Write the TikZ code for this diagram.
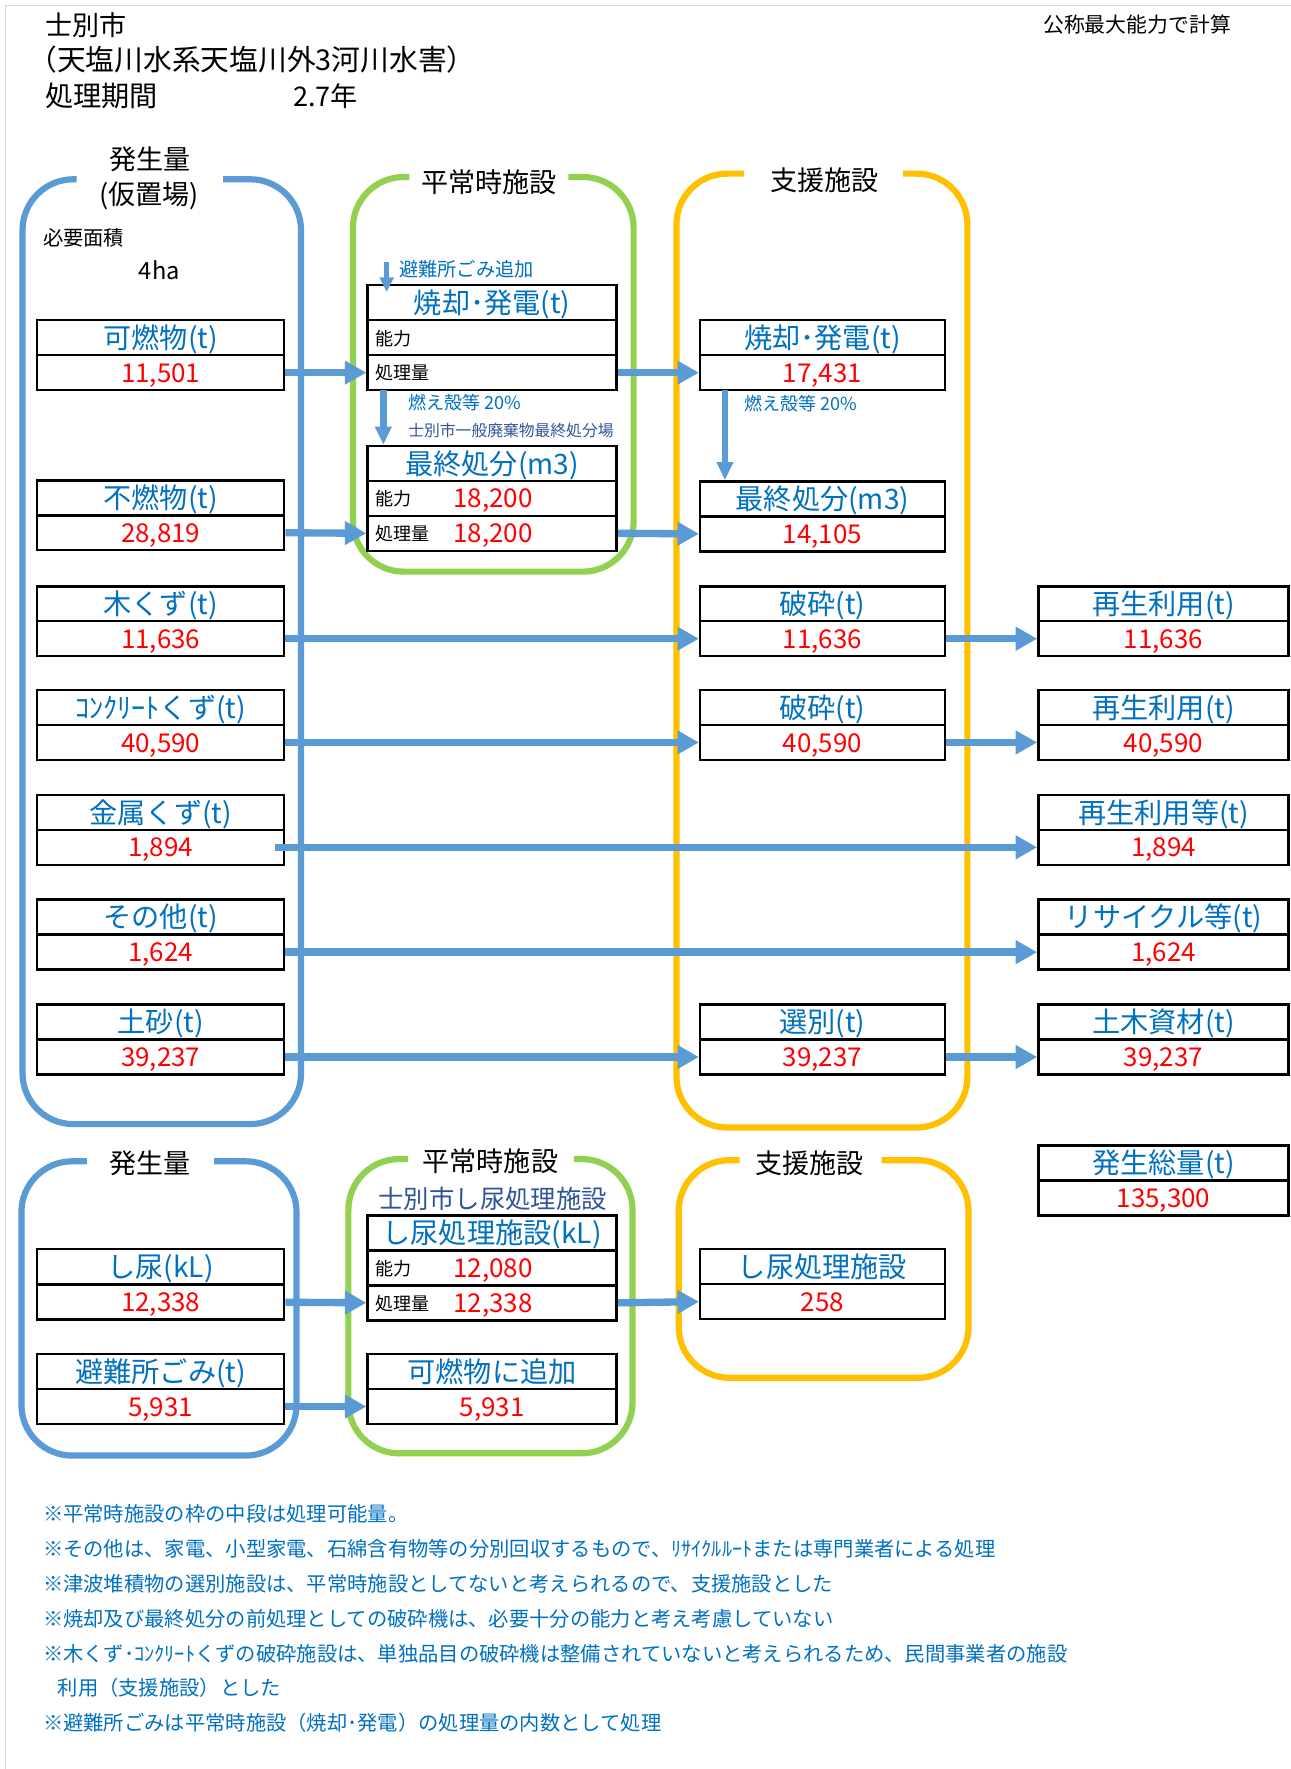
\documentclass[tikz,border=0pt]{standalone}
\usepackage{fontspec}
\setmainfont{Noto Sans CJK JP}
\usetikzlibrary{arrows.meta}
\definecolor{pblue}{HTML}{5B9BD5}
\definecolor{pgreen}{HTML}{92D050}
\definecolor{pyellow}{HTML}{FFC000}
\definecolor{tblue}{HTML}{0070C0}
\definecolor{slate}{HTML}{2F5597}
\definecolor{frameline}{HTML}{D6DCE5}
\newcommand{\myfs}[1]{\fontsize{#1}{#1}\selectfont}
\begin{document}
\begin{tikzpicture}[x=1pt,y=-1pt,
  panel/.style={line width=5.5pt, rounded corners=45pt},
  cell/.style={draw=black, line width=2.2pt, fill=white, inner sep=0pt, minimum height=31pt},
  lcell/.style={cell, minimum width=219pt},
  gcell/.style={cell, minimum width=221pt},
  ycell/.style={cell, minimum width=217pt},
  rcell/.style={cell, minimum width=222pt},
  ttl/.style={text=tblue, font=\myfs{25}, text height=21pt, text depth=2pt},
  num/.style={text=red, font=\myfs{23}, text height=17pt, text depth=0pt},
  hdr/.style={font=\myfs{24}, text=black, inner sep=0pt},
  lab/.style={font=\myfs{16}, text=black, anchor=west, inner sep=0pt, text height=13pt, text depth=0pt},
  flow/.style={draw=pblue, line width=6.5pt, -{Triangle[width=20pt,length=19pt]}},
  sflow/.style={draw=pblue, line width=4.4pt, -{Triangle[width=12pt,length=13pt]}},
  mflow/.style={draw=pblue, line width=6pt, -{Triangle[width=14pt,length=16pt]}},
  small/.style={font=\myfs{16}, text=tblue, anchor=west, inner sep=0pt},
  note/.style={font=\myfs{18}, text=tblue, anchor=west, inner sep=0pt},
]
\useasboundingbox (0,0) rectangle (1145,1569);
\fill[white] (0,0) rectangle (1145,1569);
\draw[frameline, line width=1.5pt] (5,1569) -- (5,5) -- (1145,5);

% header
\node[hdr, anchor=west] (city) at (40,22) {士別市};
\node[hdr, anchor=west, font=\myfs{25.5}] (event) at (25,53) {（天塩川水系天塩川外3河川水害）};
\node[hdr, anchor=west, font=\myfs{25}] (period) at (40,85) {処理期間};
\node[hdr, anchor=west] (years) at (260,85) {2.7年};
\node[font=\myfs{18.5}, anchor=west, inner sep=0pt] (calc) at (925,22) {公称最大能力で計算};

% panels
\draw[panel, pblue] (68,159) -- (20,159) -- (20,997) -- (267,997) -- (267,159) -- (198,159);
\draw[panel, pgreen] (363,157) -- (313,157) -- (313,507) -- (562,507) -- (562,157) -- (504,157);
\draw[panel, pyellow] (660,154) -- (600,154) -- (600,1000) -- (858,1000) -- (858,154) -- (801,154);
\draw[panel, pblue] (77,1030) -- (19,1030) -- (19,1291) -- (263,1291) -- (263,1030) -- (190,1030);
\draw[panel, pgreen] (362,1028) -- (309,1028) -- (309,1289) -- (561,1289) -- (561,1028) -- (509,1028);
\draw[panel, pyellow] (656,1029) -- (602,1029) -- (602,1222) -- (859,1222) -- (859,1029) -- (782,1029);

\node[hdr] (h1a) at (133,141) {発生量};
\node[hdr] (h1b) at (132,174) {(仮置場)};
\node[hdr] (h2) at (434,162) {平常時施設};
\node[hdr] (h3) at (731,160) {支援施設};
\node[hdr] (h4) at (133,1032) {発生量};
\node[hdr] (h5) at (435,1030) {平常時施設};
\node[hdr] (h6) at (718,1032) {支援施設};

\node[font=\myfs{18}, anchor=west, inner sep=0pt] (area) at (38,211) {必要面積};
\node[font=\myfs{21}, anchor=west, inner sep=0pt] (areav) at (123,240) {4ha};

% left column
\node[lcell, ttl] (kanT) at (142.5,299.5) {可燃物(t)};
\node[lcell, num] (kanV) at (142.5,330.5) {11,501};
\node[lcell, ttl] (funT) at (142.5,441.5) {不燃物(t)};
\node[lcell, num] (funV) at (142.5,472.5) {28,819};
\node[lcell, ttl] (mokT) at (142.5,535.5) {木くず(t)};
\node[lcell, num] (mokV) at (142.5,566.5) {11,636};
\node[lcell, ttl] (conT) at (142.5,627.5) {ｺﾝｸﾘｰﾄくず(t)};
\node[lcell, num] (conV) at (142.5,658.5) {40,590};
\node[lcell, ttl] (kinT) at (142.5,720.5) {金属くず(t)};
\node[lcell, num] (kinV) at (142.5,751.5) {1,894};
\node[lcell, ttl] (sonT) at (142.5,813.5) {その他(t)};
\node[lcell, num] (sonV) at (142.5,844.5) {1,624};
\node[lcell, ttl] (doT) at (142.5,906.5) {土砂(t)};
\node[lcell, num] (doV) at (142.5,937.5) {39,237};
\node[lcell, ttl] (shiT) at (142.5,1123.5) {し尿(kL)};
\node[lcell, num] (shiV) at (142.5,1155) {12,338};
\node[lcell, ttl] (hinT) at (142.5,1216.5) {避難所ごみ(t)};
\node[lcell, num] (hinV) at (142.5,1247.5) {5,931};

% green column
\node[gcell, ttl] (gsT) at (436.5,268.5) {焼却･発電(t)};
\node[gcell] (gsC) at (436.5,299.5) {};
\node[gcell] (gsP) at (436.5,330.5) {};
\node[lab] (gsCl) at (333,299.5) {能力};
\node[lab] (gsPl) at (333,330.5) {処理量};
\node[gcell, ttl] (gfT) at (436.5,411) {最終処分(m3)};
\node[gcell] (gfC) at (436.5,442) {};
\node[gcell] (gfP) at (436.5,473) {};
\node[lab] (gfCl) at (333,442) {能力};
\node[lab] (gfPl) at (333,473) {処理量};
\node[num, anchor=west, inner sep=0pt] (gfCv) at (402,442) {18,200};
\node[num, anchor=west, inner sep=0pt] (gfPv) at (402,473) {18,200};
\node[font=\myfs{22.5}, text=slate, inner sep=0pt] (facName) at (437,1063) {士別市し尿処理施設};
\node[gcell, ttl] (gnT) at (436.5,1093.5) {し尿処理施設(kL)};
\node[gcell] (gnC) at (436.5,1124.5) {};
\node[gcell] (gnP) at (436.5,1155.5) {};
\node[lab] (gnCl) at (333,1124.5) {能力};
\node[lab] (gnPl) at (333,1155.5) {処理量};
\node[num, anchor=west, inner sep=0pt] (gnCv) at (402,1124.5) {12,080};
\node[num, anchor=west, inner sep=0pt] (gnPv) at (402,1155.5) {12,338};
\node[gcell, ttl] (gaT) at (436.5,1216.5) {可燃物に追加};
\node[gcell, num] (gaV) at (436.5,1247.5) {5,931};

% yellow column
\node[ycell, ttl] (ysT) at (729.5,299.5) {焼却･発電(t)};
\node[ycell, num] (ysV) at (729.5,330.5) {17,431};
\node[ycell, ttl] (yfT) at (729.5,442.5) {最終処分(m3)};
\node[ycell, num] (yfV) at (729.5,473.5) {14,105};
\node[ycell, ttl] (ha1T) at (729.5,535.5) {破砕(t)};
\node[ycell, num] (ha1V) at (729.5,566.5) {11,636};
\node[ycell, ttl] (ha2T) at (729.5,627.5) {破砕(t)};
\node[ycell, num] (ha2V) at (729.5,658.5) {40,590};
\node[ycell, ttl] (senT) at (729.5,906.5) {選別(t)};
\node[ycell, num] (senV) at (729.5,937.5) {39,237};
\node[ycell, ttl] (ynT) at (729.5,1123.5) {し尿処理施設};
\node[ycell, num] (ynV) at (729.5,1154.5) {258};

% right column
\node[rcell, ttl] (r1T) at (1032,535.5) {再生利用(t)};
\node[rcell, num] (r1V) at (1032,566.5) {11,636};
\node[rcell, ttl] (r2T) at (1032,627.5) {再生利用(t)};
\node[rcell, num] (r2V) at (1032,658.5) {40,590};
\node[rcell, ttl] (r3T) at (1032,720.5) {再生利用等(t)};
\node[rcell, num] (r3V) at (1032,751.5) {1,894};
\node[rcell, ttl] (r4T) at (1032,813.5) {リサイクル等(t)};
\node[rcell, num] (r4V) at (1032,844.5) {1,624};
\node[rcell, ttl] (r5T) at (1032,906.5) {土木資材(t)};
\node[rcell, num] (r5V) at (1032,937.5) {39,237};
\node[rcell, ttl] (totT) at (1032,1031.5) {発生総量(t)};
\node[rcell, num] (totV) at (1032,1062.5) {135,300};

% arrows
\draw[flow] (kanV.east) -- (gsP.west);
\draw[flow] (funV.east) -- (gfP.west);
\draw[flow] (gsP.east) -- (ysV.west);
\draw[flow] (gfP.east) -- (yfV.west);
\draw[flow] (mokV.east) -- (ha1V.west);
\draw[flow] (ha1V.east) -- (r1V.west);
\draw[flow] (conV.east) -- (ha2V.west);
\draw[flow] (ha2V.east) -- (r2V.west);
\draw[flow] ([xshift=-9pt]kinV.east) -- (r3V.west);
\draw[flow] (sonV.east) -- (r4V.west);
\draw[flow] (doV.east) -- (senV.west);
\draw[flow] (senV.east) -- (r5V.west);
\draw[flow] (shiV.east) -- (gnP.west);
\draw[flow] (hinV.east) -- (gaV.west);
\draw[flow] (gnP.east) -- (ynV.west);

\coordinate (addTop) at (343,232);
\coordinate (addTip) at (343,259);
\draw[sflow] (addTop) -- (addTip);
\coordinate (ashG) at (340,346);
\draw[mflow] (ashG) -- (ashG |- gfT.north);
\coordinate (ashY) at (643,346);
\draw[mflow] (ashY) -- (ashY |- yfT.north);

\node[small, font=\myfs{17}] (addL) at (354,239) {避難所ごみ追加};
\node[small] (ashGL) at (362,357) {燃え殻等 20\%};
\node[small, font=\myfs{14}, text=slate] (landfill) at (362,382) {士別市一般廃棄物最終処分場};
\node[small] (ashYL) at (660,358) {燃え殻等 20\%};

% notes
\node[note] (n1) at (38,1343) {※平常時施設の枠の中段は処理可能量。};
\node[note] (n2) at (38,1374) {※その他は、家電、小型家電、石綿含有物等の分別回収するもので、ﾘｻｲｸﾙﾙｰﾄまたは専門業者による処理};
\node[note] (n3) at (38,1405) {※津波堆積物の選別施設は、平常時施設としてないと考えられるので、支援施設とした};
\node[note] (n4) at (38,1436) {※焼却及び最終処分の前処理としての破砕機は、必要十分の能力と考え考慮していない};
\node[note] (n5) at (38,1467) {※木くず･ｺﾝｸﾘｰﾄくずの破砕施設は、単独品目の破砕機は整備されていないと考えられるため、民間事業者の施設};
\node[note] (n6) at (51,1497) {利用（支援施設）とした};
\node[note] (n7) at (38,1528) {※避難所ごみは平常時施設（焼却･発電）の処理量の内数として処理};
\end{tikzpicture}
\end{document}
